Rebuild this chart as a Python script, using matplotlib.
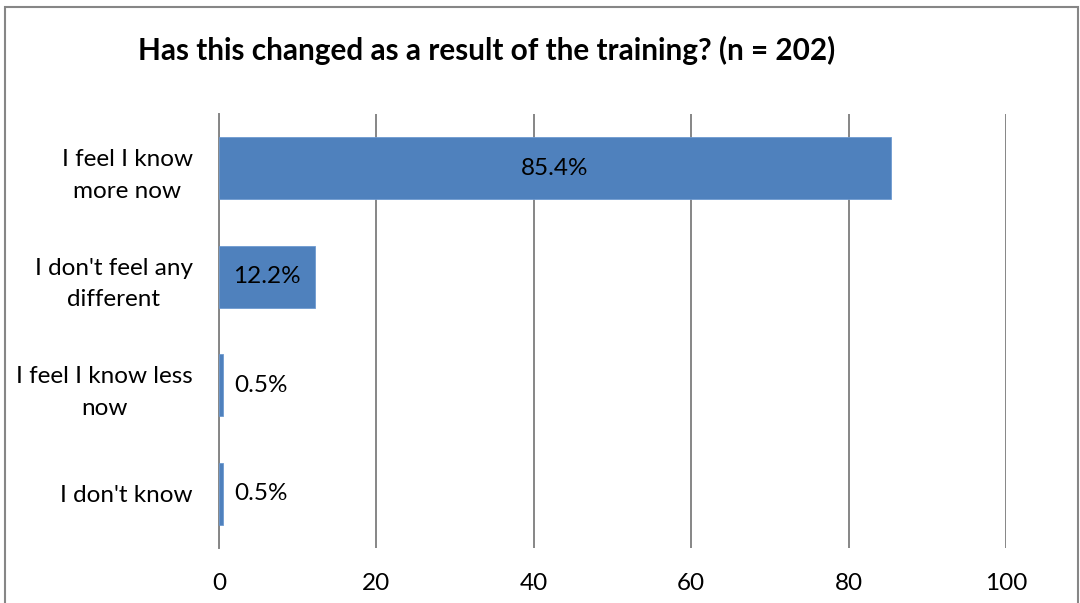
import matplotlib
matplotlib.use("Agg")
import matplotlib.pyplot as plt
from matplotlib.patches import Rectangle

categories = ["I feel I know\nmore now", "I don't feel any\ndifferent", "I feel I know less\nnow", "I don't know"]
values = [85.4, 12.2, 0.5, 0.5]
labels = ["85.4%", "12.2%", "0.5%", "0.5%"]
xticks = [0, 20, 40, 60, 80, 100]

plt.rcParams["font.family"] = ["Lato", "DejaVu Sans"]

fig = plt.figure(figsize=(10.8, 6.03), dpi=100)
ax = fig.add_axes([219 / 1080, 55 / 603, 787 / 1080, 434 / 603])

ypos = list(range(len(categories)))
ax.barh(ypos, values, height=0.57, color="#4F81BD", edgecolor="#6E9AD0", linewidth=0.6, zorder=3)

for y, v, lab in zip(ypos, values, labels):
    if v > 5:
        ax.text(v / 2, y, lab, ha="center", va="center", fontsize=17.5, zorder=4)
    else:
        ax.text(v + 1.4, y, lab, ha="left", va="center", fontsize=17.5, zorder=4)

ax.set_xlim(0, 100)
ax.set_ylim(len(categories) - 0.5, -0.5)
ax.set_xticks(xticks)
ax.set_yticks(ypos)
ax.set_yticklabels(categories, multialignment="center", linespacing=1.62)
ax.tick_params(axis="both", length=0, labelsize=17.5)
ax.tick_params(axis="x", pad=18)
ax.tick_params(axis="y", pad=19)
ax.xaxis.grid(True, color="#868686", linewidth=1.4, zorder=0)
for s in ["top", "right", "bottom"]:
    ax.spines[s].set_visible(False)
ax.spines["left"].set_color("#868686")
ax.spines["left"].set_linewidth(1.4)

fig.text(487 / 1080, 1 - 50 / 603, "Has this changed as a result of the training? (n = 202)",
         ha="center", va="center", fontsize=21.4, fontweight="bold")

fig.patches.append(Rectangle((5 / 1080, -0.05), 1073 / 1080, 1 - 7 / 603 + 0.05,
                             transform=fig.transFigure, fill=False, edgecolor="#868686", linewidth=1.5))

fig.savefig("out.png", dpi=100)
